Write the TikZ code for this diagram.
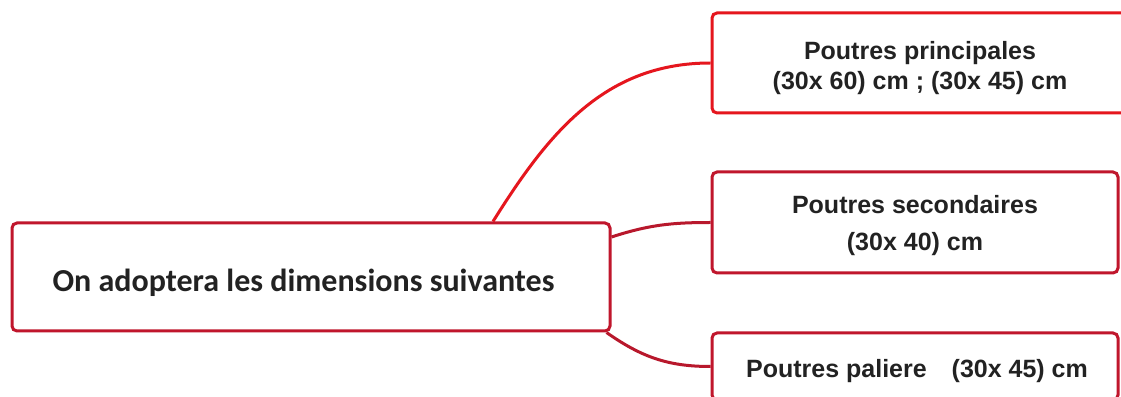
\documentclass[tikz,border=0pt]{standalone}
\usepackage{fontspec}
\setmainfont{Liberation Sans}
\newfontfamily\calib{Carlito}
\definecolor{dred}{HTML}{C0162C}
\definecolor{bred}{HTML}{E5161E}
\definecolor{cred}{HTML}{B8182C}
\definecolor{ink}{HTML}{222222}
\tikzset{
  box/.style={draw=dred, line width=3pt, rounded corners=5pt, fill=white, inner sep=0pt, align=center, text=ink},
  boxtext/.style={font=\bfseries\fontsize{25}{30}\selectfont},
  link/.style={line width=3pt}
}
\begin{document}
\begin{tikzpicture}[x=1pt,y=1pt]
\useasboundingbox (0,0) rectangle (1121,396);
\clip (0,0) rectangle (1121,396);
\fill[white] (0,0) rectangle (1121,396);
\node[box, minimum width=598pt, minimum height=108pt, text height=36pt, text depth=6pt,
      font=\calib\bfseries\fontsize{32}{38}\selectfont] (main) at (311,119)
      {\hspace*{-15pt}On adoptera les dimensions suivantes};
\node[box, draw=bred, boxtext, minimum width=416pt, minimum height=100pt, text height=60pt, text depth=6pt] (b1) at (920,333)
      {Poutres principales\\(30x 60) cm ; (30x 45) cm};
\node[box, font=\bfseries\fontsize{25}{37}\selectfont, minimum width=406pt, minimum height=101pt, text height=63pt, text depth=6pt] (b2) at (915,173.5)
      {Poutres secondaires\\(30x 40) cm};
\node[box, boxtext, minimum width=406pt, minimum height=67pt, text height=27pt, text depth=6pt] (b3) at (915,29.5)
      {\hspace*{4pt}Poutres paliere\hspace{0.72em} (30x 45) cm};
\draw[link, bred] ([xshift=182pt]main.north) to[out=58,in=180] (b1.west);
\draw[link, cred] ([yshift=40pt]main.east) to[out=18,in=180] (b2.west);
\draw[link, cred] ([xshift=-5pt]main.south east) to[out=-35,in=180] (b3.west);
\end{tikzpicture}
\end{document}
